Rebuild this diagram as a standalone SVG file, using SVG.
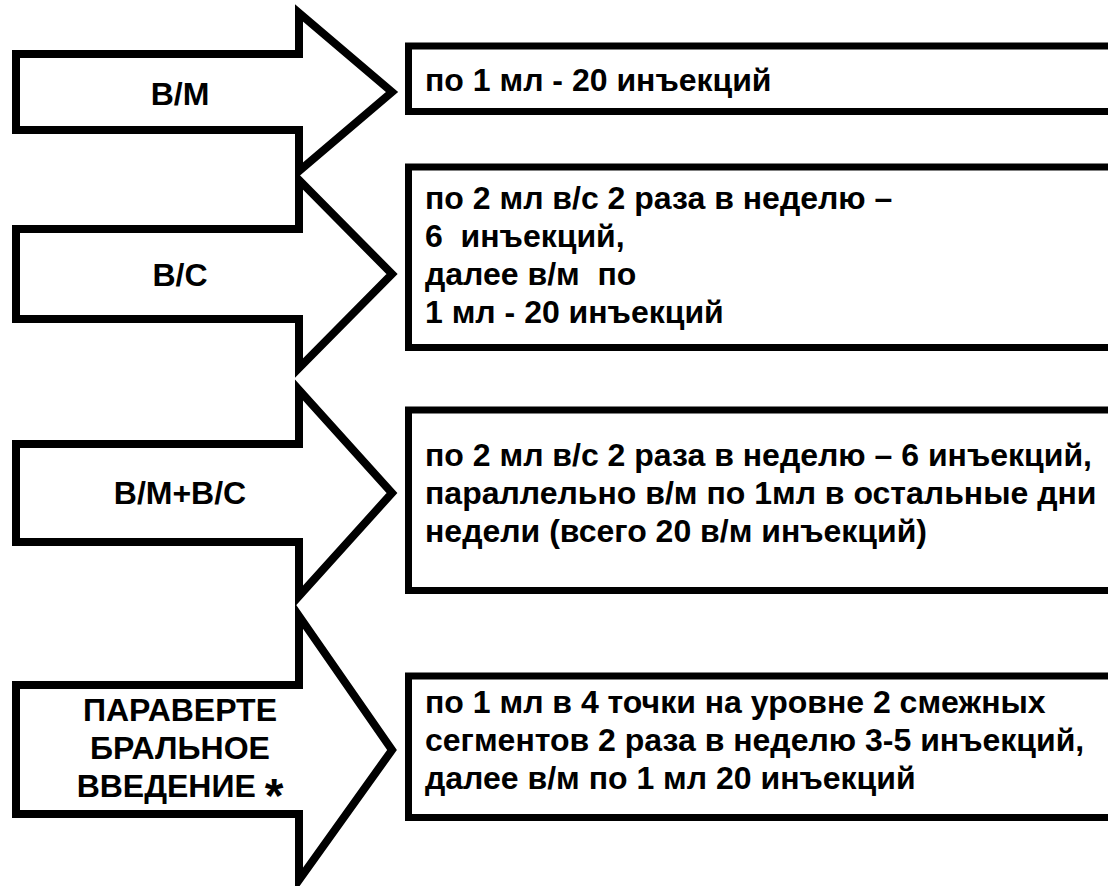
<svg xmlns="http://www.w3.org/2000/svg" width="1108" height="886" viewBox="0 0 1108 886">
<style>
.arrow{fill:#fff;stroke:#000;stroke-width:8;stroke-linejoin:miter;stroke-miterlimit:10}
.box{fill:#fff;stroke:#000;stroke-width:7}
.lbl{font-family:"Liberation Sans",Arial,sans-serif;font-weight:bold;font-size:32px;fill:#000;text-anchor:middle}
.txt{font-family:"Liberation Sans",Arial,sans-serif;font-weight:bold;font-size:32px;fill:#000;white-space:pre}
</style>
<rect width="1108" height="886" fill="#fff"/>
<g id="arrow-vm">
<path class="arrow" d="M16,54 H299 V13 L392,92 L299,171 V130 H16 Z"/>
<text class="lbl" x="180" y="105">В/М</text>
</g>
<g id="arrow-vs">
<path class="arrow" d="M16,229 H299 V180 L392,274 L299,368 V319 H16 Z"/>
<text class="lbl" x="180" y="286">В/С</text>
</g>
<g id="arrow-vmvs">
<path class="arrow" d="M16,444 H299 V390 L392,493 L299,596 V542 H16 Z"/>
<text class="lbl" x="180" y="504">В/М+В/С</text>
</g>
<g id="arrow-para">
<path class="arrow" d="M16,685 H299 V616 L392,750 L299,880 V814 H16 Z"/>
<text class="lbl" x="180" y="721">ПАРАВЕРТЕ</text>
<text class="lbl" x="180" y="759">БРАЛЬНОЕ</text>
<text class="lbl" x="180" y="797">ВВЕДЕНИЕ <tspan font-size="48" dy="15">*</tspan></text>
</g>
<g id="box-vm">
<rect class="box" x="408.5" y="46" width="720" height="65.5"/>
<text class="txt" x="425" y="91">по 1 мл - 20 инъекций</text>
</g>
<g id="box-vs">
<rect class="box" x="408.5" y="167" width="720" height="180.5"/>
<text class="txt" x="425" y="209">по 2 мл в/с 2 раза в неделю –</text>
<text class="txt" x="425" y="247">6  инъекций,</text>
<text class="txt" x="425" y="285">далее в/м  по</text>
<text class="txt" x="425" y="323">1 мл - 20 инъекций</text>
</g>
<g id="box-vmvs">
<rect class="box" x="408.5" y="410" width="720" height="180.5"/>
<text class="txt" x="425" y="466">по 2 мл в/с 2 раза в неделю – 6 инъекций,</text>
<text class="txt" x="425" y="504">параллельно в/м по 1мл в остальные дни</text>
<text class="txt" x="425" y="542">недели (всего 20 в/м инъекций)</text>
</g>
<g id="box-para">
<rect class="box" x="408.5" y="676" width="720" height="141.5"/>
<text class="txt" x="425" y="713">по 1 мл в 4 точки на уровне 2 смежных</text>
<text class="txt" x="425" y="751">сегментов 2 раза в неделю 3-5 инъекций,</text>
<text class="txt" x="425" y="789">далее в/м по 1 мл 20 инъекций</text>
</g>
<g id="connectors"/>
</svg>
